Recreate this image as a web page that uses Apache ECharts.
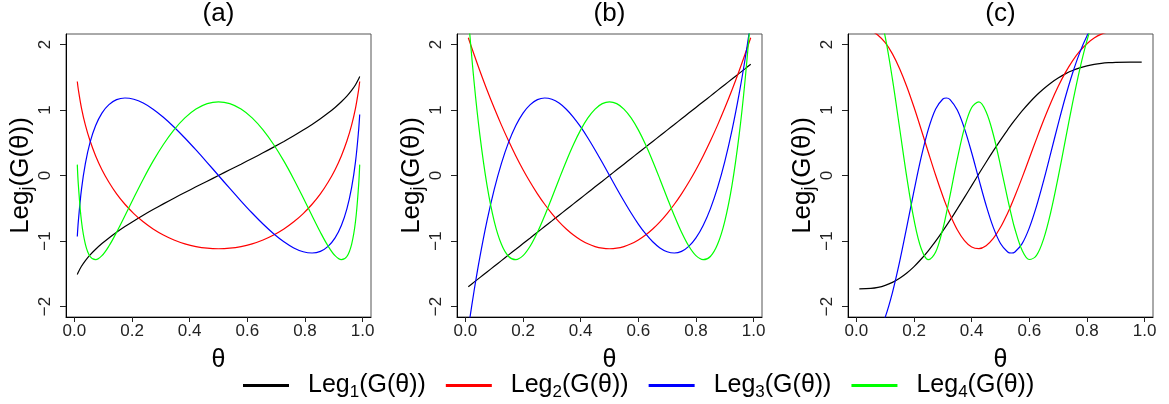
<!DOCTYPE html>
<html>
<head>
<meta charset="utf-8">
<script src="https://cdn.jsdelivr.net/npm/echarts@6/dist/echarts.min.js"></script>
<style>
  html, body { margin: 0; padding: 0; background: #fff; }
  #chart { width: 1169px; height: 404px; }
</style>
</head>
<body>
<div id="chart"></div>
<script>
// Orthonormal shifted Legendre polynomials Leg_j evaluated at G(theta),
// for three choices of G: (a) arcsine, (b) uniform, (c) unimodal.

// ---- panel (a) ----
const thetaA = [0.01, 0.0138, 0.0245, 0.0381, 0.0545, 0.0737, 0.0955, 0.1198, 0.1464, 0.1753,
  0.2061, 0.2388, 0.2730, 0.3087, 0.3455, 0.3833, 0.4218, 0.4608, 0.5, 0.5392, 0.5782, 0.6167,
  0.6545, 0.6913, 0.7270, 0.7612, 0.7939, 0.8247, 0.8536, 0.8802, 0.9045, 0.9263, 0.9455,
  0.9619, 0.9755, 0.9862, 0.99];
const leg1A = [-1.511, -1.472, -1.386, -1.299, -1.212, -1.126, -1.039, -0.953, -0.866, -0.779,
  -0.693, -0.606, -0.520, -0.433, -0.346, -0.260, -0.173, -0.087, 0, 0.087, 0.173, 0.260, 0.346,
  0.433, 0.520, 0.606, 0.693, 0.779, 0.866, 0.953, 1.039, 1.126, 1.212, 1.299, 1.386, 1.472, 1.511];
const leg2A = [1.435, 1.305, 1.029, 0.769, 0.526, 0.299, 0.089, -0.103, -0.280, -0.439, -0.581,
  -0.707, -0.816, -0.908, -0.984, -1.043, -1.085, -1.110, -1.118, -1.110, -1.085, -1.043, -0.984,
  -0.908, -0.816, -0.707, -0.581, -0.439, -0.280, -0.103, 0.089, 0.299, 0.526, 0.769, 1.029, 1.305, 1.435];
const leg3A = [-0.930, -0.689, -0.212, 0.186, 0.509, 0.763, 0.953, 1.082, 1.158, 1.183, 1.164,
  1.106, 1.012, 0.889, 0.741, 0.573, 0.390, 0.198, 0, -0.198, -0.390, -0.573, -0.741, -0.889,
  -1.012, -1.106, -1.164, -1.183, -1.158, -1.082, -0.953, -0.763, -0.509, -0.186, 0.212, 0.689, 0.930];
const leg4A = [0.166, -0.152, -0.699, -1.050, -1.236, -1.285, -1.224, -1.077, -0.867, -0.615,
  -0.339, -0.056, 0.219, 0.473, 0.696, 0.879, 1.014, 1.097, 1.125, 1.097, 1.014, 0.879, 0.696,
  0.473, 0.219, -0.056, -0.339, -0.615, -0.867, -1.077, -1.224, -1.285, -1.236, -1.050, -0.699, -0.152, 0.166];

// ---- panel (b) ----
const thetaB = [0.01, 0.03, 0.05, 0.075, 0.1, 0.125, 0.15, 0.175, 0.2, 0.225, 0.25, 0.275, 0.3,
  0.325, 0.35, 0.375, 0.4, 0.425, 0.45, 0.475, 0.5, 0.525, 0.55, 0.575, 0.6, 0.625, 0.65, 0.675,
  0.7, 0.725, 0.75, 0.775, 0.8, 0.825, 0.85, 0.875, 0.9, 0.925, 0.95, 0.97, 0.99];
const leg1B = [-1.697, -1.628, -1.559, -1.472, -1.386, -1.299, -1.212, -1.126, -1.039, -0.953,
  -0.866, -0.779, -0.693, -0.606, -0.520, -0.433, -0.346, -0.260, -0.173, -0.087, 0, 0.087, 0.173,
  0.260, 0.346, 0.433, 0.520, 0.606, 0.693, 0.779, 0.866, 0.953, 1.039, 1.126, 1.212, 1.299,
  1.386, 1.472, 1.559, 1.628, 1.697];
const leg2B = [2.103, 1.846, 1.599, 1.305, 1.029, 0.769, 0.526, 0.299, 0.089, -0.103, -0.280,
  -0.439, -0.581, -0.707, -0.816, -0.908, -0.984, -1.043, -1.085, -1.110, -1.118, -1.110, -1.085,
  -1.043, -0.984, -0.908, -0.816, -0.707, -0.581, -0.439, -0.280, -0.103, 0.089, 0.299, 0.526,
  0.769, 1.029, 1.305, 1.599, 1.846, 2.103];
const leg3B = [-2.336, -1.763, -1.250, -0.689, -0.212, 0.186, 0.509, 0.763, 0.953, 1.082, 1.158,
  1.183, 1.164, 1.106, 1.012, 0.889, 0.741, 0.573, 0.390, 0.198, 0, -0.198, -0.390, -0.573, -0.741,
  -0.889, -1.012, -1.106, -1.164, -1.183, -1.158, -1.082, -0.953, -0.763, -0.509, -0.186, 0.212,
  0.689, 1.250, 1.763, 2.336];
const leg4B = [2.427, 1.432, 0.624, -0.152, -0.699, -1.050, -1.236, -1.285, -1.224, -1.077,
  -0.867, -0.615, -0.339, -0.056, 0.219, 0.473, 0.696, 0.879, 1.014, 1.097, 1.125, 1.097, 1.014,
  0.879, 0.696, 0.473, 0.219, -0.056, -0.339, -0.615, -0.867, -1.077, -1.224, -1.285, -1.236,
  -1.050, -0.699, -0.152, 0.624, 1.432, 2.427];

// ---- panel (c) ----
const thetaC = [0.01, 0.05, 0.075, 0.1, 0.125, 0.15, 0.175, 0.2, 0.225, 0.25, 0.275, 0.3, 0.3125,
  0.325, 0.35, 0.375, 0.4, 0.425, 0.45, 0.475, 0.5, 0.525, 0.5375, 0.55, 0.575, 0.6, 0.625, 0.65,
  0.675, 0.7, 0.725, 0.75, 0.775, 0.8, 0.825, 0.85, 0.875, 0.9, 0.95, 0.99];
const leg1C = [-1.732, -1.724, -1.708, -1.677, -1.631, -1.568, -1.488, -1.390, -1.275, -1.145,
  -1.002, -0.846, -0.765, -0.682, -0.510, -0.333, -0.154, 0.026, 0.203, 0.375, 0.541, 0.699, 0.775,
  0.848, 0.986, 1.111, 1.225, 1.325, 1.413, 1.488, 1.551, 1.602, 1.642, 1.673, 1.696, 1.712, 1.722,
  1.728, 1.732, 1.732];
const leg2C = [2.236, 2.206, 2.142, 2.027, 1.857, 1.631, 1.356, 1.041, 0.699, 0.348, 0.004,
  -0.317, -0.464, -0.599, -0.828, -0.994, -1.092, -1.117, -1.072, -0.961, -0.791, -0.571, -0.447,
  -0.314, -0.032, 0.263, 0.559, 0.846, 1.114, 1.357, 1.570, 1.751, 1.898, 2.012, 2.098, 2.158,
  2.196, 2.219, 2.235, 2.236];
const leg3C = [-2.646, -2.575, -2.425, -2.162, -1.787, -1.315, -0.781, -0.231, 0.283, 0.712,
  1.016, 1.168, 1.183, 1.159, 0.999, 0.716, 0.347, -0.059, -0.454, -0.792, -1.038, -1.167, -1.183,
  -1.167, -1.040, -0.799, -0.468, -0.074, 0.353, 0.784, 1.194, 1.561, 1.876, 2.130, 2.323, 2.462,
  2.552, 2.606, 2.644, 2.646];
const leg4C = [3.000, 2.868, 2.588, 2.115, 1.471, 0.721, -0.033, -0.679, -1.117, -1.285, -1.169,
  -0.813, -0.570, -0.302, 0.250, 0.728, 1.037, 1.123, 0.974, 0.626, 0.152, -0.360, -0.601, -0.817,
  -1.141, -1.282, -1.219, -0.963, -0.549, -0.029, 0.540, 1.104, 1.620, 2.058, 2.403, 2.656, 2.824,
  2.924, 2.997, 3.000];

// ---- shared labels / ticks ----
const panelLabels = ['(a)', '(b)', '(c)'];
const seriesNames = ['Leg1(G(θ))', 'Leg2(G(θ))', 'Leg3(G(θ))', 'Leg4(G(θ))'];
const seriesColors = ['#000000', '#ff0000', '#0000ff', '#00ff00'];
const xTicks = [0, 0.2, 0.4, 0.6, 0.8, 1.0];
const yTicks = [-2, -1, 0, 1, 2];

const panels = [
  { theta: thetaA, legs: [leg1A, leg2A, leg3A, leg4A] },
  { theta: thetaB, legs: [leg1B, leg2B, leg3B, leg4B] },
  { theta: thetaC, legs: [leg1C, leg2C, leg3C, leg4C] }
];

const FONT = '"Liberation Sans", Arial, Helvetica, sans-serif';
const gridLeft = [66, 457, 848];
const gridTop = 34, gridW = 305, gridH = 283;
const xMin = -0.0292, xMax = 1.0292;
const yMin = -2.16, yMax = 2.16;

const grids = [], xAxes = [], yAxes = [], series = [], graphics = [];

panels.forEach((p, i) => {
  grids.push({
    left: gridLeft[i], top: gridTop, width: gridW, height: gridH,
    show: true, borderColor: '#555', borderWidth: 1, backgroundColor: 'transparent'
  });
  xAxes.push({
    gridIndex: i, type: 'value', min: xMin, max: xMax,
    name: 'θ', nameLocation: 'middle', nameGap: 17,
    nameTextStyle: { fontFamily: FONT, fontSize: 25, color: '#000', lineHeight: 30 },
    axisLine: { show: true, onZero: false, lineStyle: { color: '#000', width: 1 } },
    axisTick: { show: true, inside: false, length: 5, customValues: xTicks, lineStyle: { color: '#222' } },
    axisLabel: {
      customValues: xTicks, margin: 6, fontFamily: FONT, fontSize: 17, color: '#222',
      formatter: v => v.toFixed(1)
    },
    splitLine: { show: false }
  });
  yAxes.push({
    gridIndex: i, type: 'value', min: yMin, max: yMax,
    name: '{n|Leg}{j|j}{n|(G(θ))}', nameLocation: 'middle', nameRotate: 90, nameGap: 26,
    nameTextStyle: {
      fontFamily: FONT, color: '#000',
      rich: {
        n: { fontFamily: FONT, fontSize: 26, lineHeight: 30, color: '#000' },
        j: { fontFamily: FONT, fontSize: 18, lineHeight: 18, verticalAlign: 'bottom', color: '#000' }
      }
    },
    axisLine: { show: true, onZero: false, lineStyle: { color: '#000', width: 1 } },
    axisTick: { show: true, inside: false, length: 6, customValues: yTicks, lineStyle: { color: '#222' } },
    axisLabel: {
      customValues: yTicks, rotate: 90, margin: 12, fontFamily: FONT, fontSize: 17, color: '#222',
      formatter: v => (v < 0 ? '\u2212' + Math.abs(v) : String(v))
    },
    splitLine: { show: false }
  });
  p.legs.forEach((vals, k) => {
    series.push({
      name: seriesNames[k], type: 'line', xAxisIndex: i, yAxisIndex: i,
      data: p.theta.map((t, j) => [t, vals[j]]),
      showSymbol: false, symbol: 'none', smooth: 0.35, clip: true, silent: true,
      lineStyle: { color: seriesColors[k], width: 1.2 },
      itemStyle: { color: seriesColors[k] }
    });
  });
  graphics.push({
    type: 'text', x: gridLeft[i] + gridW / 2, y: 14,
    style: {
      text: panelLabels[i], fill: '#000', font: '26px ' + FONT,
      align: 'center', verticalAlign: 'middle'
    }
  });
});

const chart = echarts.init(document.getElementById('chart'), null, { renderer: 'canvas' });
chart.setOption({
  animation: false,
  backgroundColor: '#fff',
  grid: grids,
  xAxis: xAxes,
  yAxis: yAxes,
  series: series,
  graphic: graphics,
  legend: {
    data: seriesNames,
    left: 238, top: 368,
    icon: 'rect', itemWidth: 46, itemHeight: 3, itemGap: 20,
    selectedMode: false,
    formatter: name => '{n|Leg}{s|' + name.charAt(3) + '}{n|' + name.slice(4) + '}',
    textStyle: {
      padding: [0, 0, 0, 14],
      rich: {
        n: { fontFamily: FONT, fontSize: 25, lineHeight: 30, color: '#000' },
        s: { fontFamily: FONT, fontSize: 17, lineHeight: 17, verticalAlign: 'bottom', color: '#000' }
      }
    }
  }
});
</script>
</body>
</html>
